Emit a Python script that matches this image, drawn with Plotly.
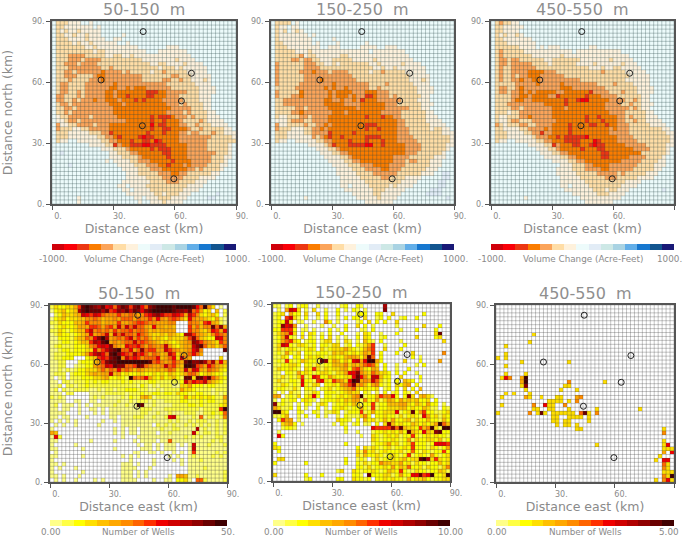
import plotly.graph_objects as go

TITLES = ["50-150  m", "150-250  m", "450-550  m"]
VOL_COLORS = ["#d0000a", "#fa0008", "#ec3612", "#fa7c00", "#fba45a", "#ffdda6", "#fef1dc", "#edfbfb",
              "#e2ecf6", "#cde8e6", "#a9d3e3", "#62aee8", "#1677cf", "#12558f", "#191a77"]
WELL_COLORS = ["#ffff88", "#ffff44", "#ffff00", "#ffdf00", "#ffc000", "#ffa800", "#ff8c00", "#ff6400",
               "#ff3000", "#f00000", "#d00000", "#b00000", "#900000", "#6a0000", "#400000"]
WELL_X = [44.6, 68.2, 24.0, 63.3, 44.2, 59.6]
WELL_Y = [84.8, 64.3, 61.0, 50.7, 38.5, 12.4]
TICKS = [0, 30, 60, 90]
TICK_TEXT = ["0.", "30.", "60.", "90."]
VOL_LABELS = ["-1000.", "Volume Change (Acre-Feet)", "1000."]
WELL_MAX = [50, 10, 5]
WELL_LOW = ["0.00", "0.00", "0.00"]
WELL_HIGH = ["50.", "10.00", "5.00"]

VOL_50 = """
75556 66776 77777 77777 77777 77777 77777 77777 77777
75566 66666 76777 77777 77777 77777 77777 77777 77777
75656 65666 66777 77777 77777 77777 77777 77777 77777
75566 56656 66777 77677 77777 77777 77777 77777 77777
75556 66656 66677 66777 77777 77777 77777 77777 77777
75555 65665 66666 67767 77777 77777 77777 77777 77777
75555 55566 56666 66666 67777 77766 67777 77777 77777
75555 55555 65566 66666 66677 76666 66677 77777 77777
75554 44455 55566 55665 66666 66666 66667 77777 77777
75554 44544 44555 55555 55666 66666 56666 77777 77777
75544 45444 45555 55555 55556 65566 66566 66777 77777
75554 44444 44554 55555 55555 56555 65666 66677 77777
75544 54444 44344 44545 55556 55455 55566 66677 77777
75544 45555 43344 44444 44555 55554 45556 66667 77777
75554 55554 44344 44444 44555 55445 54556 66567 77777
75445 55544 44444 34444 44444 44455 55555 66667 77777
75445 55544 44443 34434 33344 44445 55555 56666 77777
75445 54544 44433 43333 33322 23344 44455 56666 77777
74455 54544 44433 43323 33322 33344 45555 56667 77777
74455 45444 34433 34333 23233 33444 44555 56667 77777
75445 44444 44443 33433 33333 33344 45455 55667 77777
75544 54444 44444 33333 33333 33334 44445 55667 77777
75545 44444 44444 33333 33333 33344 44545 55566 77777
76554 44445 44444 43333 33332 32223 44454 55566 67777
76654 45444 44444 44433 33332 33233 34555 54566 66777
74665 54444 54443 33333 33331 32233 34455 45556 66677
74555 66554 44443 33333 33332 33223 33345 54555 55667
75556 66665 55442 33333 33323 33233 34454 45554 55666
75556 66666 65544 32333 32122 33333 34444 44445 55556
75667 76666 66554 43332 33223 12333 34444 44455 55555
77777 77776 66655 24332 22112 22233 33344 44455 55567
77777 77777 77666 55543 33332 32223 33344 44455 55567
77877 77777 77776 65554 43333 33223 33344 44444 55567
77777 77777 77776 66555 54333 33323 33344 44445 55667
77777 77777 77767 66665 54443 33332 33334 44445 55677
77778 77777 77777 76666 55544 43323 33434 44455 56677
77777 77777 77777 77666 65554 44333 33344 54555 56777
77777 77777 77777 77766 65555 54443 34455 55556 67777
77777 77777 77777 77766 66655 55444 44555 56666 77777
77777 77777 77777 77666 66665 55544 45555 66677 77777
77777 77777 77777 76676 66655 55555 55566 66777 77777
77777 77777 77777 77667 66665 55555 55666 67777 77777
77777 77777 77777 77766 66666 55655 56667 77777 87777
77777 76777 77777 77777 66766 65556 66677 77788 77777
77777 76777 77777 77777 76776 66566 66777 77777 77777
"""

VOL_150 = """
75555 76777 77777 77777 77777 77777 77777 77777 77777
75667 66777 77777 77777 77777 77777 77777 77777 77777
75657 65677 77777 77777 77777 77777 77777 77777 77777
75666 66667 67777 77777 77777 77777 77777 77777 77777
75666 66666 77777 67777 77777 77777 77777 77777 77777
75566 66666 76777 76777 77767 77777 77777 77777 77777
75556 66666 66776 66777 77666 67766 67777 77777 77777
75555 56665 66666 66666 66667 66666 66677 77777 77777
75555 55465 56666 66556 66666 66666 66667 77777 77777
75555 44544 55666 55555 66666 56666 66666 77777 77777
74555 55544 45566 56555 55556 65666 66566 66777 77777
74555 55544 44555 55555 55555 66566 56666 66677 77777
74555 55444 34445 44445 55556 55455 55566 66677 77777
74555 55544 44444 44444 55555 55555 55556 66667 77777
74555 55544 44344 44444 45555 55555 55556 66567 77777
74555 55444 44444 34444 44445 55545 55555 66667 77777
75555 54444 44434 34434 44445 54555 55555 56666 77777
74555 55344 44443 43333 44433 34445 55555 56666 77777
74555 44344 44443 43334 34422 34445 45555 55667 77777
75544 44444 44433 44344 34233 34444 44555 56667 77777
75544 44444 44433 33344 44333 33344 45555 55666 77777
75555 54454 44443 33333 34333 33344 44445 55667 77777
75555 44344 44444 33343 33333 33444 44555 55566 77777
75665 55445 44443 33333 33323 33233 44555 55566 67777
76665 44455 44443 33333 33333 33333 34455 55566 66777
74665 55545 54434 33333 33322 23333 34455 55556 66677
74555 66655 44343 33333 33323 32333 34445 55556 55667
75556 66655 44442 33333 23333 33333 34445 55555 55666
75556 66666 45432 33233 33322 22333 34444 55555 55556
75667 76666 65544 33332 33323 33233 34444 45555 55556
77777 77776 66654 23332 22211 33233 33344 44555 55566
77777 77777 76665 54333 33333 33333 33344 44555 55567
77777 77777 77666 55443 33333 33333 33344 45555 55677
77777 77777 77766 66554 33333 33333 44445 55555 66677
77777 77777 77776 66655 44333 33333 44454 45556 66777
77777 77777 77777 66665 55444 33334 44455 55556 66777
77777 77777 77777 76666 55544 44334 44555 55566 67777
77777 77777 77777 76666 65555 44444 45555 55666 77887
77777 77777 77777 77666 66555 55445 55566 66777 77887
77777 77777 77777 77666 66655 55555 55666 67777 78877
77777 77777 77777 77667 66665 55556 56666 77777 78877
77777 77777 77777 77766 66666 55566 66677 77778 88777
77777 77777 77777 77777 66666 55666 66777 77788 88777
77777 77767 77777 77777 76666 65666 67777 77777 77787
77777 77777 77777 77777 77766 66666 77777 77777 77777
"""

VOL_450 = """
75455 66777 77777 77777 77777 77777 77777 77777 77777
75566 66677 77777 77777 77777 77777 77777 77777 77777
75566 66777 77777 77777 77777 77777 77777 77777 77777
75656 65677 77777 77777 77777 77777 77777 77777 77777
75566 66666 77777 77777 77777 77777 77777 77777 77777
75556 66666 67777 77777 77777 77777 77777 77777 77777
75555 55666 67676 66777 77776 67777 77777 77777 77777
75455 55566 66666 66666 76666 66666 66777 77777 77777
75455 55555 66666 66566 66666 66666 66667 77777 77777
75445 44555 55566 55555 55666 66665 66666 77777 77777
75445 44444 55556 55555 56666 56666 66566 67777 77777
75455 44444 45555 55555 55556 66566 55666 66777 77777
75455 44443 33344 45555 55555 55455 55566 66677 77777
75455 45443 33444 44455 55555 55555 55556 66667 77777
75455 44344 33444 44444 44555 55555 55566 66667 77777
75555 54444 43444 44344 44444 45555 45555 66667 77777
75445 54344 44444 44333 44444 44455 55555 56666 77777
75445 44343 43333 34433 33332 44445 55455 56666 77777
75555 44334 33334 42333 33323 33444 45555 55667 77777
75555 43344 33333 33323 32113 33334 44455 45667 77777
75554 44444 44433 33323 33333 33344 44554 55666 77777
75555 44544 44444 33343 33333 33344 44445 45667 77777
75556 55444 44444 33333 33333 33334 44455 55566 77777
75665 55443 44444 33333 33323 32333 34454 55566 67777
75665 44555 44444 43333 33323 33233 34455 45566 66777
74565 55445 54444 33332 33332 23323 34445 55556 66677
75566 66554 44434 33332 33333 33334 34445 55555 55667
75556 66655 44244 33332 33333 33334 44445 55555 55566
75556 66666 54443 32322 22213 33333 34444 55555 55556
75667 76666 65544 33322 22333 12333 34444 45555 55556
77777 77776 66655 24333 22332 12233 33344 44455 55566
77777 77777 76665 54333 33233 32233 33333 44445 55567
77777 77777 77666 55443 33333 33223 33333 33555 55567
77777 77777 77766 66554 43333 33223 33334 44455 55677
77777 77777 77777 66665 54433 33333 33444 44555 56677
77777 77777 77777 77666 55544 33334 44444 45555 66677
77777 77777 77777 76666 55544 44334 44444 55555 66777
77777 77777 77777 76666 65555 54444 45455 55566 67777
77777 77777 77777 77666 66555 55544 45555 56666 77777
77777 77777 77777 77666 66655 55555 55566 66777 77777
77777 77777 77777 77667 66665 55555 55666 67777 77777
77777 77777 77777 77766 66666 55565 56667 77777 77877
77777 77777 77777 77777 66666 65556 66677 77777 77777
77777 77767 77777 77777 77666 66666 66777 77777 77777
77777 77777 77777 77777 77766 66666 77777 77777 77777
"""

WELLS_50 = """
13223 358de dcbd9 a7bdc 8cd97 cdeee edeee ed97e 63.0.
02342 34bde dddbd 89cbd adc9c deeee edccb d7852 3.4.1
.1243 345a9 8a976 66866 76568 9bca8 8a985 a8632 342.1
02342 33446 67645 56577 75766 86965 78753 96554 32510
11322 24458 66645 55855 67887 66555 66... 76648 95410
01232 23555 88757 85a6a 7a775 49554 54... 85746 6d7c5
11321 23448 a6767 58677 86776 45455 55... 86643 59859
01322 12345 9567a 4a7a7 76976 43343 5432b b8654 36876
00222 13447 69ceb 56768 a6867 53432 43335 8c743 22a96
00122 12344 8bade 56567 7a787 65434 32345 6cb86 54386
01211 12223 679a9 c6549 88975 7656a 53245 5acd7 45357
00122 12223 3968a cde77 957c7 8855a 86545 69b6. ....d
01112 22235 8ab97 dec98 7b897 57645 a8355 7975. .....
01122 2...2 34898 cde6a 89867 77945 793a6 5.... ...3.
0011. ..122 2458c ddeee eeeee d7865 6865d eccdb 7b594
0011. .0112 2567a 9dcc7 78dc7 6556a 7854e ed875 97543
00101 01223 33575 76967 64654 44545 7634a 6a954 76532
0111. 12223 45455 a4523 22332 23232 43235 77523 43221
0.01. 11122 23345 22321 e7679 53242 3421d d3dda d7532
00.11 01112 12122 11121 21111 22111 1112a 7988a 64321
001.1 10112 11111 11111 11021 01011 10033 52221 22111
01.10 01111 00101 10112 22111 00101 11153 32111 10111
000.1 1.... 00001 11110 11121 12212 21322 11221 10101
1010. ..... 01010 00010 21145 30111 11125 23232 32115
0000. .00.. 00.00 00100 10111 01001 11122 11121 22113
01.00 0.0.0 .0000 01001 00ed0 01000 01111 22121 11123
00.00 ..0.. 00.0. 00000 00011 10001 11111 11101 1118e
0000. ..0.. .0.0. 00000 00011 00100 10001 11001 12127
00.00 ....0 ..... 00.00 01110 01001 9a100 01070 11016
0.0.0 .0... ...0. .0.00 00000 00000 10100 10111 00101
.0.0. .0... ..0.. ...00 00000 0.101 01001 01010 10101
0.... ..... ..... .0.0. 00.00 00010 01100 00b01 00101
54... ..... ..... .0.0. 00.00 00.00 10000 0a101 10101
091.. ..... ..... ...0. ..000 00000 00001 01010 00110
00... ..... 0.... .0... .0.00 00.00 70000 00000 01010
0.... .0... ..... ..... ..0.0 0.0.0 00.0. 0a000 10001
00... ...0. ..... .0... ...00 0.0.0 00... 0a000 00000
.0... ..... ..... ..... .00.. 00.0. .0.0. 08000 00101
00... ...0. ..... ...0. 0.0.. ..... 0.0.. 01000 01010
0.... ..... ..... ..... 0.... .0... .0.0. 00010 00000
00.0. ..... ..... ...00 0.0.. .0... ...0. 00000 00000
0.0.. .0... ..... ...00 00... 0.... ..... 00001 00000
0.... ...0. ..... ...00 0.0.0 ..... ..... 00000 00001
00.0. ..0.. ..... ...00 0.0.0 ..... 0.554 00100 00001
.0.0. .0... .0.0. ...00 00... .0..0 0.223 0.771 00001
"""

WELLS_150 = """
11.12 .122. .1... ..12. .21.. ...b. ..... ..... .....
.1.5a 93.1. 3..1. .2.1. 21.1. ...c. ..... ..... .....
123.5 22.3. .3.2. .2... .222. .22.. 3.... ...2. .....
12.8a 31.2. .1.2. .1.2. 22.3. .12.2 ..12. .2... .....
122a3 .11.. 1..62 .1... .12.3 .2.2. .3... ..... .....
12c9a 5..1. ..1.. 1..2. .3.2. 1.... .1... ...3. ..2..
22888 2.11. 1...2 .1.2. ..11. 2.... ..1.. .2... .2...
13569 3.2.3 2.1.2 ..2.. .1.32 ..1.. .2... ..... .3d..
125a2 1.3.2 1.2.3 .1.1. .2.32 ..12. ..... .3... .23..
12578 32.12 2.133 .1.31 .1.42 1.2.. ..1.. ..... ...3.
13a92 13321 2.221 33.12 .2135 8..1. ...2. ..... .....
13123 21123 2.312 33353 21246 8..3. ..2.. ..... .....
12152 13.22 12221 43432 32354 8.2.. .2... 3.... ...6.
1132. 22.23 23212 32245 5425d 7.2.. ..... 2.1.. .....
12182 12432 21dc2 54242 9a59e e52.. ...3. ..2.. ..5..
11223 32.22 13122 44463 54578 73.2. .1... .1.2. .....
13223 21.32 83132 33452 78532 54.2. .1..2 ..... .....
11.22 15232 12332 13359 9c643 75332 .2.2. .1... .....
11312 13812 98225 32233 9d963 aa422 ..3.. ..2.. .....
13112 21922 18932 86539 ed565 a7312 .2.43 2.1.. .....
11321 21921 33.22 32568 c5642 56212 .3245 .2... .....
12211 31.22 1.123 12345 73232 23.12 .2.3. 2.4.. .....
1.1.3 11.11 32.22 21234 33.21 .1.2. 12.21 .3... .....
55.12 13.23 92.22 12323 56e12 24866 92.2c 3.453 1....
1.212 2.232 1.122 23243 55162 25135 42534 34223 .2...
c1211 .1.21 .132. 12232 43122 81224 44553 24325 22.1.
53112 .2.1. .2.1. 22321 22521 81223 33442 32243 11.21
ee32. .21.. 21.11 32.12 22812 52233 39123 d2582 21123
1124. .1.2. .2.1. .1.21 11362 .2232 21312 32195 23132
.2855 .1... ..... .3221 .2.42 31242 52234 13224 22142
..345 2.1.. ..... 1.21. 12.11 .2.3c 42322 43232 35e74
..122 1.... ..... ...2. ..... 98888 c7d43 32846 e31ee
.1... ..... ..... ...1. .1... 12232 3242d 43294 3cd22
.92.. ..... ..... ..... ..1.. 32123 23122 82123 23221
..... ..... ..... ..... ..... 32122 32125 13223 32412
2.... ..... ..... ...2. ..... 12235 23123 82221 29998
32... ..... ..... ..... .2.31 32123 12232 82221 32125
.2... ..... ..... ..... .3162 31232 22312 72132 12282
..... ..... ..... ..... .3142 23212 32128 12321 52123
.33.. ..... ..... ...2. .121. 13122 32342 33deb 38323
2.... ...2. ..... ...2. .2131 22644 33523 13221 22423
..... ..... ..... ..... .2213 12232 52437 22313 22136
..... ..... ..... .13.. 32122 32124 32821 13221 22431
3.... ...2. ..2.. ..... 221.d 22233 12522 99d89 e223e
..... ...12 ..... .22.. 32212 .2232 32214 23342 12233
"""

WELLS_450 = """
..... ..... ..... ..... ..... ..... ..... ..... .....
..... ..... ..... ..... ..... ..... ..... ..... .....
..... ..... ..... ..... ..... ..... ..... ..... .....
..... ..... ..... ..... ..... ..... ..... ..... .....
..... ..... ..... ..... ..... ..... ..... ..... .....
..... ..... ..... ..... ..... ..... ..... ..... .....
..... ..... ..... ..... ..... ..... ..... ..... .....
..... ....3 ..... ..... ..... ..... ..... ..... .....
..... ..... ..... ..... ..... ..... ..... ..... .....
..... ...3. ..... ..... ..... ..... ..... ..... .....
..3.. ..... ..... ..... ..... ..... ..... ..... .....
..... ..... ..... ..... ..... ..... ..... ..... .....
..3.. ..... ..... ..... ..... ..... ..... ..... .....
3.3.. ..... ..... ..... ..... ..... ..... ..... .....
..... .3... ..... ...3. ..... ..... ..... ..... .....
..3.. ..... ..... ..... ..... ..... ..... ..... .....
..... ..... ..... ..... ..... ..... ..... ..... .....
..3.. ..3.. ..... ..... ..... ..... ..... ..... .....
.396. .5e.. ..... ..... ..... ..... ..... ..... .....
..... .5e.. ..... ...6. ..... ..3.. ..... ..... .....
..... .3c.. ..... ..33. ..... ..... ..... ..... .....
..... ..3.. ..... .3... 3.... ..... ..... ..... .....
..3.3 ...3. ..... ..... ..... ..... ..... ..... .....
.3... ..53. .3... 33... 56... ..... ..... ..... .....
..... ..... ...33 33.3. 6.... ..... ..... ..... .....
.3... ....6 ..933 ..6.. ..... ..... ..... ..... .....
..... ....3 3..33 ...3. ..... 3.... ..... .3... .....
3.... ...6. 3d3.3 33333 .7d3. 6.... ..... ..... .....
..... ..... ....3 3..33 33.3. ..... ..... ..... .....
..... ..... ....3 3.33. ...3. ..... ..... ..... .....
..... ..... ..... 3.33. 3.... ..... ..... ..... .....
..... ..... ..... ..... 33... ..... ..... ..... ..3..
..... ..... ..... ..... ..... ..... ..... ..... ..6..
..... ..... ..... ..... ..... ..... ..... ..... .....
..... ..... ..... ..... ..... ..... ..... ..... ..3..
..... ..... ..... ..... ..... 3.... ..... ..... ..39.
..... ..... ..... ..... ..... ..... ..... ..... ..333
..... ..... ..... ..... ..... ..... ..... ..... ..5.9
..... ..... ..... ..... ..... ..... ..... ..... .3...
..... ..... ..... ..... ..... ..... ..... ..... 3.99.
..... ..... ..... ..... ..... ..... ..... ..... ..73.
..... ..... ..... ..... ..... ..... ..... ..... ..63.
..... ..... ..... ..... ..... ..... ..... ..... ..333
..... ..... ..... ..... ..... ..... ..... ..... ..63e
..... ..... ..... ..... ..... ..... ..... ..... 3.693
"""


def parse(block):
    rows = [r.replace(" ", "") for r in block.strip().splitlines()]
    return [(r + "." * 45)[:45] for r in rows]


def vol_grid(block):
    return [[-1000 + (int(ch, 16) + 0.5) * 2000 / 15 for ch in r] for r in parse(block)][::-1]


def wells_grid(block, top):
    return [[None if ch == "." else (int(ch, 16) + 0.5) * top / 15 for ch in r] for r in parse(block)][::-1]


def scale(colors):
    out = []
    for i, c in enumerate(colors):
        out += [[i / 15, c], [(i + 1) / 15, c]]
    return out


W, H = 685, 537
CELLS = [2 * i + 1 for i in range(45)]
GRID = [2 * i for i in range(46)]
PANELS = [
    (vol_grid(VOL_50), (52, 236), (21, 204), VOL_COLORS, -1000, 1000, "rgba(40,70,70,0.6)", 0),
    (vol_grid(VOL_150), (271, 454), (21, 204), VOL_COLORS, -1000, 1000, "rgba(40,70,70,0.6)", 1),
    (vol_grid(VOL_450), (491, 674), (21, 204), VOL_COLORS, -1000, 1000, "rgba(40,70,70,0.6)", 2),
    (wells_grid(WELLS_50, WELL_MAX[0]), (50, 227), (305, 482), WELL_COLORS, 0, WELL_MAX[0], "rgba(60,60,60,0.6)", 0),
    (wells_grid(WELLS_150, WELL_MAX[1]), (273, 450), (304, 481), WELL_COLORS, 0, WELL_MAX[1], "rgba(60,60,60,0.6)", 1),
    (wells_grid(WELLS_450, WELL_MAX[2]), (496, 674), (305, 482), WELL_COLORS, 0, WELL_MAX[2], "rgba(60,60,60,0.6)", 2),
]

fig = go.Figure()
layout = {}
annotations = []
TXT = "#8a8a8a"
for n, (z, xr, yr, colors, zmin, zmax, gridc, col) in enumerate(PANELS):
    k = 2 * n + 1
    xa, ya = f"x{k}", f"y{k}"
    fig.add_trace(go.Heatmap(x=CELLS, y=CELLS, z=z, xaxis=xa, yaxis=ya, zmin=zmin, zmax=zmax,
                             colorscale=scale(colors), showscale=False, hoverongaps=False))
    gx, gy = [], []
    for g in GRID:
        gx += [g, g, None]
        gy += [0, 90, None]
        gx += [0, 90, None]
        gy += [g, g, None]
    fig.add_trace(go.Scatter(x=gx, y=gy, xaxis=xa, yaxis=ya, mode="lines", hoverinfo="skip",
                             line=dict(color=gridc, width=0.5), showlegend=False))
    fig.add_trace(go.Scatter(x=WELL_X, y=WELL_Y, xaxis=xa, yaxis=ya, mode="markers", showlegend=False,
                             marker=dict(symbol="circle-open", size=6, color="#222222", line=dict(width=1))))
    base = dict(range=[0, 90], tickvals=TICKS, ticktext=TICK_TEXT, ticks="outside", ticklen=4, tickwidth=1,
                tickcolor="#555555", showgrid=False, zeroline=False, showline=True, linecolor="#555555",
                linewidth=1.5, mirror=True, automargin=False,
                tickfont=dict(family="DejaVu Sans", size=8, color=TXT))
    layout[f"xaxis{k}"] = dict(base, domain=[xr[0] / W, xr[1] / W], anchor=ya, ticklabelshift=6,
                               title=dict(text="Distance east (km)", standoff=0,
                                          font=dict(family="DejaVu Sans", size=12.5, color=TXT)))
    ytitle = dict(text="Distance north (km)", standoff=17,
                  font=dict(family="DejaVu Sans", size=12.5, color=TXT)) if col == 0 else None
    layout[f"yaxis{k}"] = dict(base, domain=[1 - yr[1] / H, 1 - yr[0] / H], anchor=xa, title=ytitle)
    cx = (xr[0] + xr[1]) / 2
    annotations.append(dict(text=TITLES[col], x=cx / W, y=1 - (yr[0] - 12) / H, xref="paper", yref="paper",
                            xanchor="center", yanchor="middle", showarrow=False,
                            font=dict(family="DejaVu Sans", size=16, color="#8f8f8f")))
    # colour bar
    k2 = 2 * n + 2
    xb, yb = f"x{k2}", f"y{k2}"
    top = n < 3
    by = (244, 250) if top else (520, 526)
    fig.add_trace(go.Heatmap(z=[list(range(15))], xaxis=xb, yaxis=yb, zmin=-0.5, zmax=14.5,
                             colorscale=scale(colors), showscale=False, hoverinfo="skip"))
    layout[f"xaxis{k2}"] = dict(domain=[xr[0] / W, xr[1] / W], anchor=yb, visible=False)
    layout[f"yaxis{k2}"] = dict(domain=[1 - by[1] / H, 1 - by[0] / H], anchor=xb, visible=False)
    labels = VOL_LABELS if top else [WELL_LOW[col], "Number of Wells", WELL_HIGH[col]]
    ly = by[1] + 9 if top else by[1] + 6
    for txt, x in zip(labels, [xr[0] + 1, cx, min(xr[1] + 1, W - 16)]):
        annotations.append(dict(text=txt, x=x / W, y=1 - ly / H, xref="paper", yref="paper", showarrow=False,
                                xanchor="center", yanchor="middle",
                                font=dict(family="DejaVu Sans", size=8.8, color=TXT)))

fig.update_layout(width=W, height=H, margin=dict(l=0, r=0, t=0, b=0), paper_bgcolor="white",
                  plot_bgcolor="white", showlegend=False, annotations=annotations, **layout)
fig.write_html("out.html", config={"displayModeBar": False},
               post_script="document.body.style.margin='0';document.body.style.overflow='hidden';"
                           "document.documentElement.style.overflow='hidden';")
